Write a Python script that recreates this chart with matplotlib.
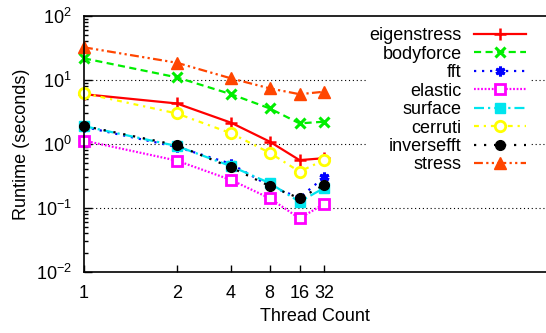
import numpy as np
import matplotlib
matplotlib.use("Agg")
import matplotlib.pyplot as plt
from matplotlib.ticker import FixedLocator, NullLocator, LogLocator

plt.rcParams["font.family"] = ["Liberation Sans", "DejaVu Sans"]
plt.rcParams["mathtext.fontset"] = "custom"
plt.rcParams["mathtext.rm"] = "Liberation Sans"

# thread counts (x axis), placed on a log scale of log2(threads)+1
threads = [1, 2, 4, 8, 16, 32]

# runtimes in seconds
eigenstress = [6.0, 4.3, 2.15, 1.09, 0.56, 0.60]
bodyforce = [21.8, 11.0, 6.0, 3.6, 2.1, 2.23]
fft = [1.85, 0.90, 0.49, 0.22, 0.145, 0.30]
elastic = [1.13, 0.55, 0.274, 0.142, 0.069, 0.115]
surface = [1.9, 0.93, 0.45, 0.245, 0.125, 0.205]
cerruti = [6.2, 3.0, 1.47, 0.73, 0.37, 0.56]
inversefft = [1.91, 0.96, 0.43, 0.22, 0.142, 0.229]
stress = [32.4, 18.6, 10.6, 7.4, 6.0, 6.56]

xpos = np.log2(threads) + 1

fig = plt.figure(figsize=(5.46, 3.33), dpi=100)
ax = fig.add_axes([84 / 546, 1 - 272 / 333, 1 - 84 / 546, (272 - 16) / 333])

lw = 1.6
series = [
    ("eigenstress", eigenstress, dict(color="#ff0000", ls="-", marker="+", ms=8, mew=1.8)),
    ("bodyforce", bodyforce, dict(color="#00ee00", dashes=[3.2, 2.0], marker="x", ms=7, mew=2.2)),
    ("fft", fft, dict(color="#0000ff", dashes=[1.0, 2.6], marker=(6, 2, 0), ms=7, mew=2.2)),
    ("elastic", elastic, dict(color="#ff00ff", dashes=[0.8, 0.8], marker="s", ms=6.5,
                              mfc="white", mew=2.0)),
    ("surface", surface, dict(color="#00e5ee", dashes=[4.5, 1.8, 1.0, 1.8], marker="s", ms=7)),
    ("cerruti", cerruti, dict(color="#ffff00", dashes=[2.2, 2.2, 1.0, 2.2], marker="o", ms=7.5,
                              mfc="white", mew=2.0)),
    ("inversefft", inversefft, dict(color="#000000", dashes=[1.0, 3.5], marker="o", ms=7)),
    ("stress", stress, dict(color="#ff4500", dashes=[4.0, 1.5, 1.0, 1.5, 1.0, 1.5], marker="^", ms=8)),
]

for name, vals, st in series:
    ax.plot(xpos, vals, label=name, lw=lw, clip_on=False, **st)

ax.set_xscale("log")
ax.set_yscale("log")
ax.set_xlim(1, 31.5)
ax.set_ylim(1e-2, 1e2)

ax.xaxis.set_major_locator(FixedLocator(xpos))
ax.xaxis.set_minor_locator(NullLocator())
ax.set_xticklabels([str(t) for t in threads])
ax.yaxis.set_major_locator(LogLocator(base=10, numticks=10))
ax.yaxis.set_minor_locator(LogLocator(base=10, subs=np.arange(2, 10), numticks=10))

ax.tick_params(axis="both", which="both", direction="in", labelsize=13, color="black")
ax.tick_params(axis="y", which="major", length=6, width=1, pad=9)
ax.tick_params(axis="y", which="minor", length=3, width=1)
ax.tick_params(axis="x", which="major", length=5, width=1, pad=9)

for side in ["top", "bottom", "left"]:
    ax.spines[side].set_linewidth(1.2)
ax.spines["right"].set_visible(False)

for v in [1e1, 1e0, 1e-1]:
    ax.axhline(v, color="black", lw=0.8, ls=(0, (1, 2.5)), zorder=0)

ax.set_xlabel("Thread Count", fontsize=13, labelpad=5)
ax.set_ylabel("Runtime (seconds)", fontsize=13, labelpad=4)

leg = ax.legend(loc="upper right", bbox_to_anchor=(0.985, 1.005), frameon=True, fancybox=False,
                edgecolor="none", facecolor="white", framealpha=1, markerfirst=False,
                fontsize=13, handlelength=2.9, handletextpad=0.7, labelspacing=0.08,
                borderpad=0.2)
for t in leg.get_texts():
    t.set_ha("right")
leg._legend_box.align = "right"

fig.savefig("out.png", dpi=100)
